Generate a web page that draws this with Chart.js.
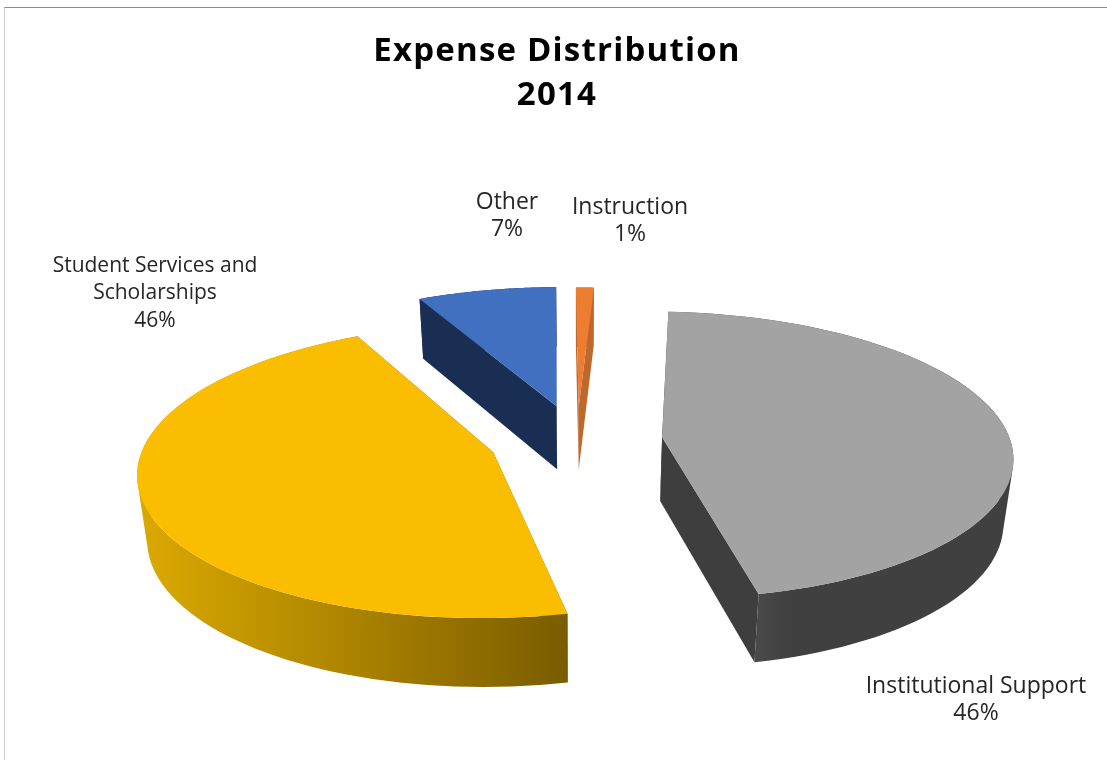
<!DOCTYPE html>
<html>
<head>
<meta charset="utf-8">
<title>Expense Distribution 2014</title>
<script src="https://cdn.jsdelivr.net/npm/chart.js@4"></script>
<style>
    body { margin: 0; background: #fff; }
    #frame { position: absolute; left: 4px; top: 7px; width: 1103px; height: 753px; box-sizing: border-box;
             border-top: 1px solid #8c8c8c; border-left: 1px solid #cfcfcf; }
    #myChart { position: absolute; left: 0; top: 0; }
</style>
</head>
<body>
<div id="frame"></div>
<canvas id="myChart" width="1107" height="760"></canvas>
<script>
// clockwise from the top, same order as the picture
let categories = ["Instruction", "Institutional Support", "Student Services and Scholarships", "Other"]
let values = [0.95, 45.75, 45.9, 7.4]
let percentLabels = ["1%", "46%", "46%", "7%"]
let titleLines = ["Expense Distribution", "2014"]

let topColors = ["#ed7d31", "#a3a3a3", "#fbbd00", "#4170c1"]
let sideStops = [["#bf682c", "#bf682c"], ["#494949", "#404040", "#404040"], ["#dcaa00", "#7a5c00"], ["#1a2d52", "#1a2d52"]]
let cutColors = ["#bf682c", "#3e3e3e", "#7a5c00", "#1a2d52"]
let explode = [68, 69, 71, 71]
let labelSpots = [[630, 207], [976, 686], [155, 266], [507, 202]]
let labelSizes = [23, 23, 21, 23]
let drawOrder = [3, 0, 1, 2]

// how the flat pie is laid down on the page
let view = { cx: 577, cy: 440, a: 348, b: 141.8, q: 0.125, depth: 64, shrink: 0.977 }

function project(u, v, dropped) {
    let w = 1 - view.q * v
    let scale = dropped ? view.shrink : 1
    return {
        x: view.cx + scale * view.a * u / w,
        y: view.cy + view.b * v / w + (dropped ? view.depth / Math.sqrt(w) : 0)
    }
}

function tracePoly(ctx, points) {
    points.forEach((p, i) => i ? ctx.lineTo(p.x, p.y) : ctx.moveTo(p.x, p.y))
    ctx.closePath()
}

function fillPoly(ctx, points, fill) {
    ctx.beginPath()
    tracePoly(ctx, points)
    ctx.fillStyle = fill
    ctx.fill()
}

function signedArea(points) {
    let sum = 0
    points.forEach((p, i) => {
        let q = points[(i + 1) % points.length]
        sum += p.x * q.y - q.x * p.y
    })
    return sum
}

function drawSlice(ctx, arc, i) {
    let r = arc.outerRadius
    let mid = (arc.startAngle + arc.endAngle) / 2
    let ox = Math.cos(mid) * arc.options.offset / r
    let oy = Math.sin(mid) * arc.options.offset / r
    let steps = 80
    let rim = []
    for (let s = 0; s <= steps; s++) {
        let t = arc.startAngle + (arc.endAngle - arc.startAngle) * s / steps
        rim.push([ox + Math.cos(t), oy + Math.sin(t)])
    }
    let topRim = rim.map(p => project(p[0], p[1], false))
    let lowRim = rim.map(p => project(p[0], p[1], true))
    let tipTop = project(ox, oy, false)
    let tipLow = project(ox, oy, true)

    let xs = topRim.map(p => p.x)
    let gradient = ctx.createLinearGradient(Math.min(...xs), 0, Math.max(...xs), 0)
    let stops = sideStops[i]
    if (i == 1) {
        // the grey one only shades near its front corner
        let front = topRim[topRim.length - 1].x
        gradient = ctx.createLinearGradient(front, 0, front + 60, 0)
    }
    stops.forEach((c, n) => gradient.addColorStop(n / (stops.length - 1), c))

    fillPoly(ctx, [tipTop, topRim[0], lowRim[0], tipLow], cutColors[i])
    fillPoly(ctx, [tipTop, topRim[steps], lowRim[steps], tipLow], cutColors[i])
    // side wall: all pieces in one path, same winding, so there are no seams
    ctx.beginPath()
    for (let s = 0; s < steps; s++) {
        let quad = [topRim[s], topRim[s + 1], lowRim[s + 1], lowRim[s]]
        tracePoly(ctx, signedArea(quad) < 0 ? quad.reverse() : quad)
    }
    ctx.fillStyle = gradient
    ctx.fill()
    fillPoly(ctx, [tipTop].concat(topRim), topColors[i])
}

function wrapLabel(ctx, text, maxWidth) {
    let lines = []
    let line = ""
    text.split(" ").forEach(word => {
        let test = line ? line + " " + word : word
        if (ctx.measureText(test).width > maxWidth && line) {
            lines.push(line)
            line = word
        } else {
            line = test
        }
    })
    lines.push(line)
    return lines
}

let tiltedPie = {
    id: "tiltedPie",
    beforeDraw(chart) {
        // the title in the picture is set a bit wider than the font
        chart.ctx.letterSpacing = "1.2px"
    },
    beforeDatasetDraw(chart) {
        // replaces the flat drawing, geometry still comes from the arc elements
        let ctx = chart.ctx
        let arcs = chart.getDatasetMeta(0).data
        ctx.letterSpacing = "0px"
        ctx.save()
        drawOrder.forEach(i => drawSlice(ctx, arcs[i], i))
        ctx.restore()
        return false
    },
    afterDraw(chart) {
        let ctx = chart.ctx
        ctx.save()
        ctx.fillStyle = "#262626"
        ctx.textAlign = "center"
        ctx.textBaseline = "middle"
        categories.forEach((name, i) => {
            ctx.font = labelSizes[i] + "px 'Open Sans'"
            let lines = wrapLabel(ctx, name, 235)
            lines.push(percentLabels[i])
            lines.forEach((line, n) => ctx.fillText(line, labelSpots[i][0], labelSpots[i][1] + n * 27.5))
        })
        ctx.restore()
    }
}

let chart = new Chart(document.getElementById("myChart").getContext("2d"), {
    type: "pie",
    plugins: [tiltedPie],
    data: {
        labels: categories,
        datasets: [
            {
                data: values,
                backgroundColor: topColors,
                offset: explode,
                rotation: -0.5,
                borderWidth: 0
            }
        ]
    },
    options: {
        responsive: false,
        animation: false,
        layout: { padding: { left: 7, right: 0, top: 30, bottom: 0 } },
        plugins: {
            legend: { display: false },
            tooltip: { enabled: false },
            title: {
                display: true,
                text: titleLines,
                color: "#000",
                font: { family: "'Open Sans'", size: 33, weight: "bold", lineHeight: 1.333 },
                padding: { top: 0, bottom: 10 }
            }
        }
    }
});
</script>
</body>
</html>
